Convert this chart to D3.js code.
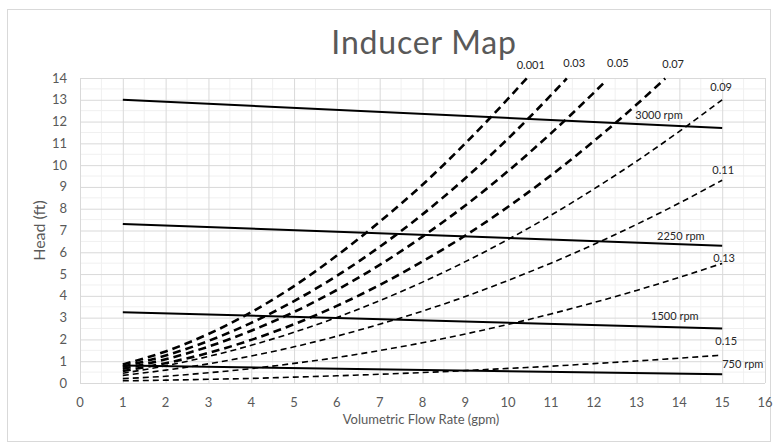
<!DOCTYPE html>
<html>
<head>
<meta charset="utf-8">
<script src="https://cdn.jsdelivr.net/npm/d3@7"></script>
<style>
  body { margin: 0; background: #fff; }
  svg { font-family: Lato, 'Open Sans', sans-serif; }
  .grid-major line { stroke: #d9d9d9; stroke-width: 1; }
  .grid-minor line { stroke: #f0f0f0; stroke-width: 1; }
  .tick-label { fill: #595959; font-size: 13px; }
  .curve-label { fill: #262626; font-size: 11px; }
</style>
</head>
<body>
<svg></svg>
<script>
// flow rate (gpm) samples
const FLOW_RATE = [1, 2, 3, 4, 5, 6, 7, 8, 9, 10, 11, 12, 13, 14, 15];

// dashed curves, head (ft)
const Q_001 = [1, 2, 3, 4, 5, 6, 7, 8, 9, 10, 10.44];
const H_001 = [0.85, 1.45, 2.25, 3.25, 4.45, 5.85, 7.4, 9.1, 11.0, 13.05, 14.0];
const Q_03 = [1, 2, 3, 4, 5, 6, 7, 8, 9, 10, 11, 11.37];
const H_03 = [0.75, 1.26, 1.93, 2.76, 3.76, 4.92, 6.25, 7.74, 9.4, 11.22, 13.21, 13.98];
const Q_05 = [1, 2, 3, 4, 5, 6, 7, 8, 9, 10, 11, 12, 12.3];
const H_05 = [0.65, 1.09, 1.67, 2.4, 3.26, 4.27, 5.42, 6.72, 8.15, 9.73, 11.46, 13.32, 13.9];
const Q_07 = [1, 2, 3, 4, 5, 6, 7, 8, 9, 10, 11, 12, 13, 13.67];
const H_07 = [0.55, 0.91, 1.38, 1.98, 2.7, 3.54, 4.5, 5.58, 6.77, 8.09, 9.53, 11.1, 12.78, 13.98];
const H_09 = [0.45, 0.79, 1.22, 1.73, 2.33, 3.01, 3.78, 4.63, 5.57, 6.59, 7.7, 8.9, 10.18, 11.55, 13.0];
const H_11 = [0.35, 0.59, 0.88, 1.24, 1.66, 2.15, 2.7, 3.3, 3.97, 4.71, 5.5, 6.36, 7.28, 8.26, 9.31];
const H_13 = [0.2, 0.31, 0.47, 0.66, 0.9, 1.17, 1.49, 1.85, 2.25, 2.69, 3.17, 3.69, 4.25, 4.85, 5.49];
const H_15 = [0.1, 0.13, 0.17, 0.21, 0.27, 0.33, 0.4, 0.48, 0.57, 0.67, 0.77, 0.89, 1.01, 1.14, 1.28];

// speed lines
const RPM_FLOW = [1, 15];
const H_3000 = [13.0, 11.7];
const H_2250 = [7.3, 6.3];
const H_1500 = [3.25, 2.5];
const H_750 = [0.8, 0.4];

const X_TICKS = d3.range(0, 17);
const Y_TICKS = d3.range(0, 15);

const WIDTH = 775, HEIGHT = 445;
const PLOT = { left: 80, right: 765, top: 78, bottom: 383 };

const x = d3.scaleLinear().domain([0, 16]).range([PLOT.left, PLOT.right]);
const y = d3.scaleLinear().domain([0, 14]).range([PLOT.bottom, PLOT.top]);

const svg = d3.select('svg').attr('width', WIDTH).attr('height', HEIGHT);

// chart frame
svg.append('rect')
  .attr('x', 7.5).attr('y', 9.5)
  .attr('width', 763).attr('height', 432)
  .attr('fill', 'none').attr('stroke', '#d9d9d9');

// minor grid (half units)
const minor = svg.append('g').classed('grid-minor', true);
minor.selectAll('.vx').data(d3.range(0.5, 16, 1)).enter().append('line')
  .attr('x1', d => x(d)).attr('x2', d => x(d))
  .attr('y1', PLOT.top).attr('y2', PLOT.bottom);
minor.selectAll('.hy').data(d3.range(0.5, 14, 1)).enter().append('line')
  .attr('y1', d => y(d)).attr('y2', d => y(d))
  .attr('x1', PLOT.left).attr('x2', PLOT.right);

// major grid
svg.append('g').classed('grid-major', true)
  .attr('transform', `translate(0, ${PLOT.bottom})`)
  .call(d3.axisBottom(x).tickValues(X_TICKS).tickSize(-(PLOT.bottom - PLOT.top)).tickFormat(''))
  .call(g => g.select('.domain').remove());
svg.append('g').classed('grid-major', true)
  .attr('transform', `translate(${PLOT.left}, 0)`)
  .call(d3.axisLeft(y).tickValues(Y_TICKS).tickSize(-(PLOT.right - PLOT.left)).tickFormat(''))
  .call(g => g.select('.domain').remove());

// tick labels
svg.append('g').selectAll('text').data(X_TICKS).enter().append('text')
  .classed('tick-label', true)
  .attr('x', d => x(d)).attr('y', PLOT.bottom + 24)
  .attr('text-anchor', 'middle')
  .text(d => d);
svg.append('g').selectAll('text').data(Y_TICKS).enter().append('text')
  .classed('tick-label', true)
  .attr('x', PLOT.left - 13).attr('y', d => y(d) + 4.5)
  .attr('text-anchor', 'end')
  .text(d => d);

// titles
svg.append('text')
  .attr('x', 424).attr('y', 54)
  .attr('text-anchor', 'middle')
  .attr('fill', '#595959').attr('font-size', 32)
  .attr('letter-spacing', 0.8)
  .text('Inducer Map');
svg.append('text')
  .attr('x', 421).attr('y', 424)
  .attr('text-anchor', 'middle')
  .attr('fill', '#595959').attr('font-size', 13)
  .text('Volumetric Flow Rate (gpm)');
svg.append('text')
  .attr('transform', `translate(45, ${(PLOT.top + PLOT.bottom) / 2}) rotate(-90)`)
  .attr('text-anchor', 'middle')
  .attr('fill', '#595959').attr('font-size', 16)
  .text('Head (ft)');

const line = d3.line().x(d => x(d[0])).y(d => y(d[1])).curve(d3.curveMonotoneX);
const pairs = (qs, hs) => qs.map((q, i) => [q, hs[i]]);

// speed lines
const SPEEDS = [H_3000, H_2250, H_1500, H_750];
svg.append('g').selectAll('path').data(SPEEDS).enter().append('path')
  .attr('d', d => line(pairs(RPM_FLOW, d)))
  .attr('fill', 'none').attr('stroke', '#000').attr('stroke-width', 2);

// dashed curves: the first four are heavy, the rest light
const CURVES = [
  [Q_001, H_001], [Q_03, H_03], [Q_05, H_05], [Q_07, H_07],
  [FLOW_RATE, H_09], [FLOW_RATE, H_11], [FLOW_RATE, H_13], [FLOW_RATE, H_15],
];
svg.append('g').selectAll('path').data(CURVES).enter().append('path')
  .attr('d', d => line(pairs(d[0], d[1])))
  .attr('fill', 'none').attr('stroke', '#000')
  .attr('stroke-width', (d, i) => i < 4 ? 2.6 : 1.6)
  .attr('stroke-dasharray', (d, i) => i < 4 ? '8,5' : '6,4');

// annotation text, anchored in data units
const LABELS = [
  ['0.001', 10.2, 14.43], ['0.03', 11.29, 14.5], ['0.05', 12.31, 14.5], ['0.07', 13.6, 14.45],
  ['0.09', 14.72, 13.39], ['0.11', 14.77, 9.59], ['0.13', 14.79, 5.55], ['0.15', 14.84, 1.74],
  ['3000 rpm', 12.97, 12.11], ['2250 rpm', 13.48, 6.56], ['1500 rpm', 13.34, 2.89], ['750 rpm', 15.0, 0.69],
];
svg.append('g').selectAll('text').data(LABELS).enter().append('text')
  .classed('curve-label', true)
  .attr('x', d => x(d[1])).attr('y', d => y(d[2]))
  .text(d => d[0]);
</script>
</body>
</html>
